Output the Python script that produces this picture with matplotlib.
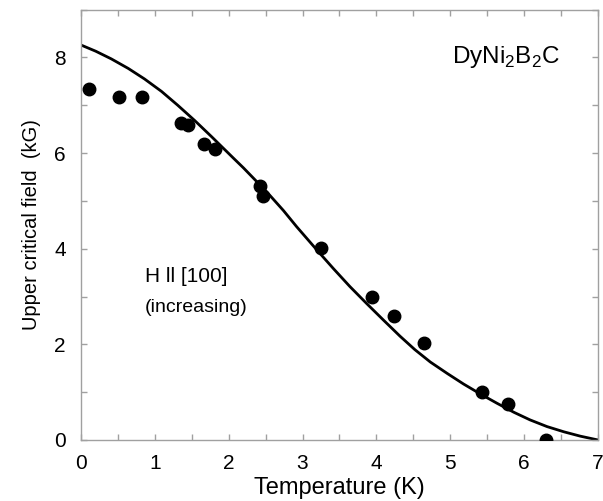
import numpy as np
import matplotlib
matplotlib.use('Agg')
import matplotlib.pyplot as plt
from matplotlib.ticker import MultipleLocator

plt.rcParams['font.family'] = ['Liberation Sans', 'DejaVu Sans']
plt.rcParams['mathtext.fontset'] = 'custom'
plt.rcParams['mathtext.rm'] = 'Liberation Sans'

# measured points (increasing field, H || [100])
temp_pts = [0.11, 0.51, 0.82, 1.36, 1.45, 1.67, 1.81, 2.43, 2.47, 3.25,
            3.94, 4.24, 4.64, 5.43, 5.78, 6.30]
hc2_pts = [7.35, 7.18, 7.18, 6.63, 6.58, 6.18, 6.08, 5.32, 5.10, 4.01,
           3.00, 2.60, 2.02, 1.00, 0.75, 0.01]

# fit curve
temp_fit = [0.0, 0.20, 0.41, 0.64, 0.86, 1.09, 1.31, 1.54, 1.77, 2.06, 2.20,
            2.52, 2.74, 2.92, 3.19, 3.42, 3.64, 3.87, 4.10, 4.32, 4.52,
            4.73, 4.96, 5.18, 5.41, 5.63, 5.86, 6.08, 6.31, 6.54, 6.76, 7.0]
hc2_fit = [8.26, 8.13, 7.97, 7.77, 7.55, 7.29, 7.00, 6.68, 6.34, 5.90, 5.69,
           5.18, 4.80, 4.46, 3.98, 3.58, 3.21, 2.85, 2.50, 2.17, 1.89,
           1.63, 1.39, 1.17, 0.96, 0.77, 0.58, 0.42, 0.28, 0.17, 0.08, 0.0]

fig = plt.figure(figsize=(6.03, 5.01), dpi=100)
ax = fig.add_axes([0.1343, 0.1218, 0.8574, 0.859])

ax.plot(temp_fit, hc2_fit, color='black', lw=2.0, zorder=2,
        solid_joinstyle='round')
ax.plot(temp_pts, hc2_pts, 'o', color='black', ms=9, zorder=3)

ax.set_xlim(0, 7)
ax.set_ylim(0, 9)
ax.xaxis.set_major_locator(MultipleLocator(1))
ax.xaxis.set_minor_locator(MultipleLocator(0.5))
ax.yaxis.set_major_locator(MultipleLocator(2))
ax.yaxis.set_minor_locator(MultipleLocator(1))

grey = '#a0a0a0'
for s in ax.spines.values():
    s.set_color(grey)
    s.set_linewidth(1.0)
ax.tick_params(which='both', direction='in', top=True, right=True,
               length=4, width=1, color=grey, labelsize=15)
ax.tick_params(axis='x', pad=10)
ax.tick_params(axis='y', pad=11)

ax.set_xlabel('Temperature (K)', fontsize=17, labelpad=3)
ax.set_ylabel('Upper critical field  (kG)', fontsize=14.5, labelpad=9)

ax.text(0.87, 3.42, 'H ll [100]', fontsize=15, va='center', ha='left')
ax.text(0.87, 2.78, '(increasing)', fontsize=14, va='center', ha='left')
ax.text(5.02, 8.0, r'DyNi$_2$B$_2$C', fontsize=17.5, va='center', ha='left')

fig.savefig('out.png', dpi=100)
